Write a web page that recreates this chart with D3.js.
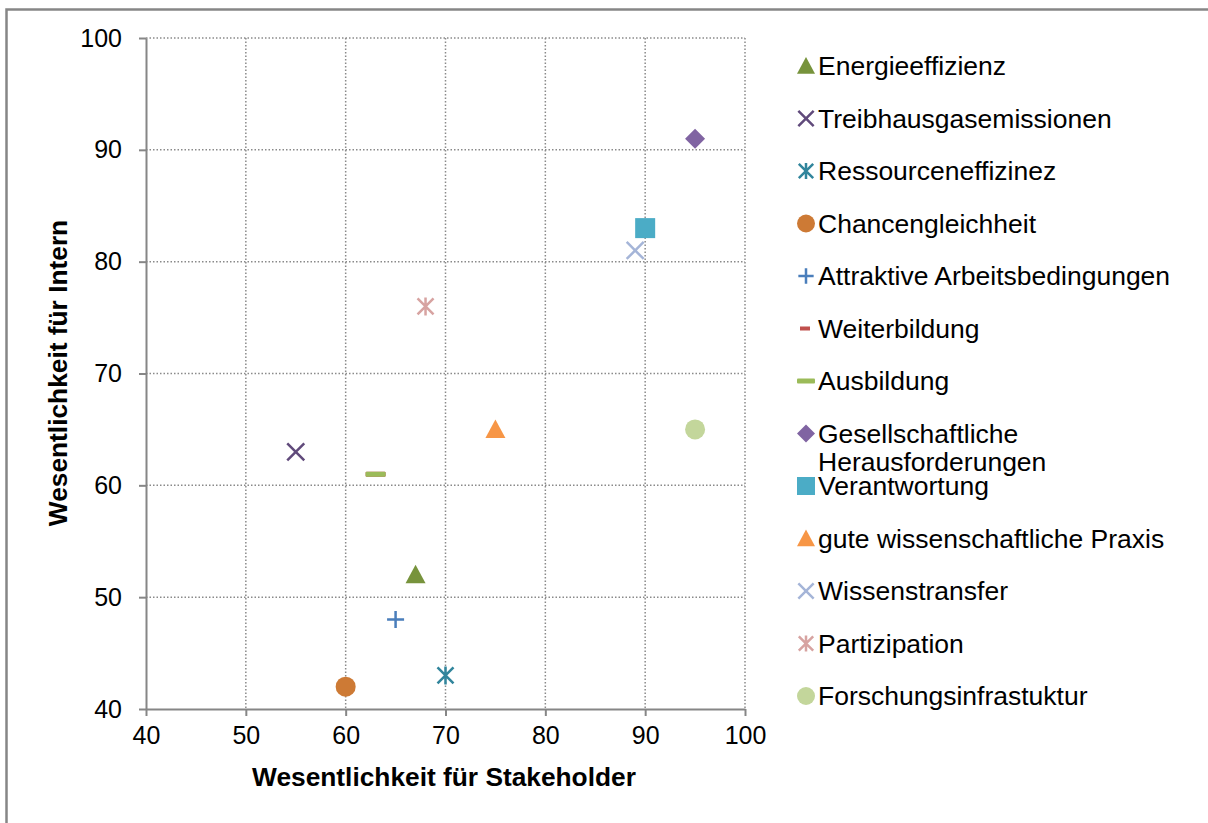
<!DOCTYPE html>
<html><head><meta charset="utf-8">
<script src="https://cdn.jsdelivr.net/npm/d3@7"></script>
<style>body{margin:0;background:#fff}svg{display:block}text{font-family:"Liberation Sans",Arial,sans-serif}</style>
</head><body>
<script>
const seriesNames = ["Energieeffizienz","Treibhausgasemissionen","Ressourceneffizinez","Chancengleichheit","Attraktive Arbeitsbedingungen","Weiterbildung","Ausbildung","Gesellschaftliche Herausforderungen","Verantwortung","gute wissenschaftliche Praxis","Wissenstransfer","Partizipation","Forschungsinfrastuktur"];
const stakeholderValues = [67,55,70,60,65,63,63,95,90,75,89,68,95];
const internValues = [52,63,43,42,48,61,61,91,83,65,81,76,65];
const markerTypes = ["triangle","x","asterisk","circle","plus","dash","dash","diamond","square","triangle","x","asterisk","circle"];
const seriesColors = ["#77933C","#604A7B","#31859C","#CD7A35","#4A7EBB","#C0504D","#9BBB59","#8064A2","#4BACC6","#F79646","#A5B5D8","#D7A3A1","#C3D69B"];
const xTicks = [40,50,60,70,80,90,100];
const yTicks = [40,50,60,70,80,90,100];
const xTitle = "Wesentlichkeit für Stakeholder";
const yTitle = "Wesentlichkeit für Intern";

const W=1208,H=823;
const svg=d3.select("body").append("svg").attr("width",W).attr("height",H);
svg.append("rect").attr("x",6.5).attr("y",9.5).attr("width",1220).attr("height",830).attr("fill","#fff").attr("stroke","#868686").attr("stroke-width",2.5);

const x=d3.scaleLinear().domain([40,100]).range([146,745]);
const y=d3.scaleLinear().domain([40,100]).range([709,38]);
const grid="#8a8a8a";

svg.append("g").selectAll("line").data(xTicks.slice(1)).join("line")
 .attr("x1",d=>x(d)).attr("x2",d=>x(d)).attr("y1",y(100)).attr("y2",y(40))
 .attr("stroke",grid).attr("stroke-width",1.5).attr("stroke-dasharray","1.5,2");
svg.append("g").selectAll("line").data(yTicks.slice(1)).join("line")
 .attr("y1",d=>y(d)).attr("y2",d=>y(d)).attr("x1",x(40)).attr("x2",x(100))
 .attr("stroke",grid).attr("stroke-width",1.5).attr("stroke-dasharray","1.5,2");

const xa=svg.append("g").attr("transform",`translate(0,${y(40)})`)
 .call(d3.axisBottom(x).tickValues(xTicks).tickSize(7).tickPadding(10).tickSizeOuter(0));
const ya=svg.append("g").attr("transform",`translate(${x(40)},0)`)
 .call(d3.axisLeft(y).tickValues(yTicks).tickSize(7).tickPadding(17).tickSizeOuter(0));
[xa,ya].forEach(a=>{
 a.select(".domain").attr("stroke","#868686").attr("stroke-width",2);
 a.selectAll(".tick line").attr("stroke","#868686").attr("stroke-width",2);
 a.selectAll(".tick text").attr("font-size",25).attr("fill","#000").attr("font-family","Liberation Sans, Arial, sans-serif");
});

svg.append("text").attr("x",444).attr("y",786).attr("text-anchor","middle")
 .attr("font-size",26.3).attr("font-weight","bold").text(xTitle);
svg.append("text").attr("transform",`translate(67,373) rotate(-90)`).attr("text-anchor","middle")
 .attr("font-size",26.3).attr("font-weight","bold").text(yTitle);

function drawMarker(g,type,color,s){
 const r=s/2;
 if(type==="triangle") g.append("path").attr("d",`M0,${-r}L${r},${r*0.85}L${-r},${r*0.85}Z`).attr("fill",color);
 else if(type==="circle") g.append("circle").attr("r",r).attr("fill",color);
 else if(type==="square") g.append("rect").attr("x",-r).attr("y",-r).attr("width",s).attr("height",s).attr("fill",color);
 else if(type==="diamond") g.append("path").attr("d",`M0,${-r}L${r},0L0,${r}L${-r},0Z`).attr("fill",color);
 else if(type==="x") g.append("path").attr("d",`M${-r*0.85},${-r*0.85}L${r*0.85},${r*0.85}M${-r*0.85},${r*0.85}L${r*0.85},${-r*0.85}`).attr("stroke",color).attr("stroke-width",2.5);
 else if(type==="plus") g.append("path").attr("d",`M${-r*0.85},0L${r*0.85},0M0,${-r*0.85}L0,${r*0.85}`).attr("stroke",color).attr("stroke-width",2.5);
 else if(type==="asterisk") g.append("path").attr("d",`M${-r*0.8},${-r*0.8}L${r*0.8},${r*0.8}M${-r*0.8},${r*0.8}L${r*0.8},${-r*0.8}M0,${-r*0.9}L0,${r*0.9}`).attr("stroke",color).attr("stroke-width",2.5);
 else if(type==="dash") g.append("rect").attr("x",-r).attr("y",-2.5).attr("width",s).attr("height",5).attr("rx",1).attr("fill",color);
}

seriesNames.forEach((n,i)=>{
 const g=svg.append("g").attr("transform",`translate(${x(stakeholderValues[i])},${y(internValues[i])})`);
 drawMarker(g,markerTypes[i],seriesColors[i],20);
});

seriesNames.forEach((n,i)=>{
 const cy=66+52.5*i;
 const g=svg.append("g").attr("transform",`translate(806,${cy})`);
 const t=markerTypes[i];
 if(t==="dash" && i===5){ g.append("rect").attr("x",-6).attr("y",-2).attr("width",10).attr("height",4).attr("fill",seriesColors[i]); }
 else drawMarker(g,t,seriesColors[i],18);
 const tx=svg.append("text").attr("x",818).attr("y",cy+9).attr("font-size",26.5).attr("fill","#000");
 if(i===7){
  tx.text("Gesellschaftliche");
  svg.append("text").attr("x",818).attr("y",cy+9+28).attr("font-size",26.5).attr("fill","#000").text("Herausforderungen");
 } else tx.text(n);
});
</script>
</body></html>
